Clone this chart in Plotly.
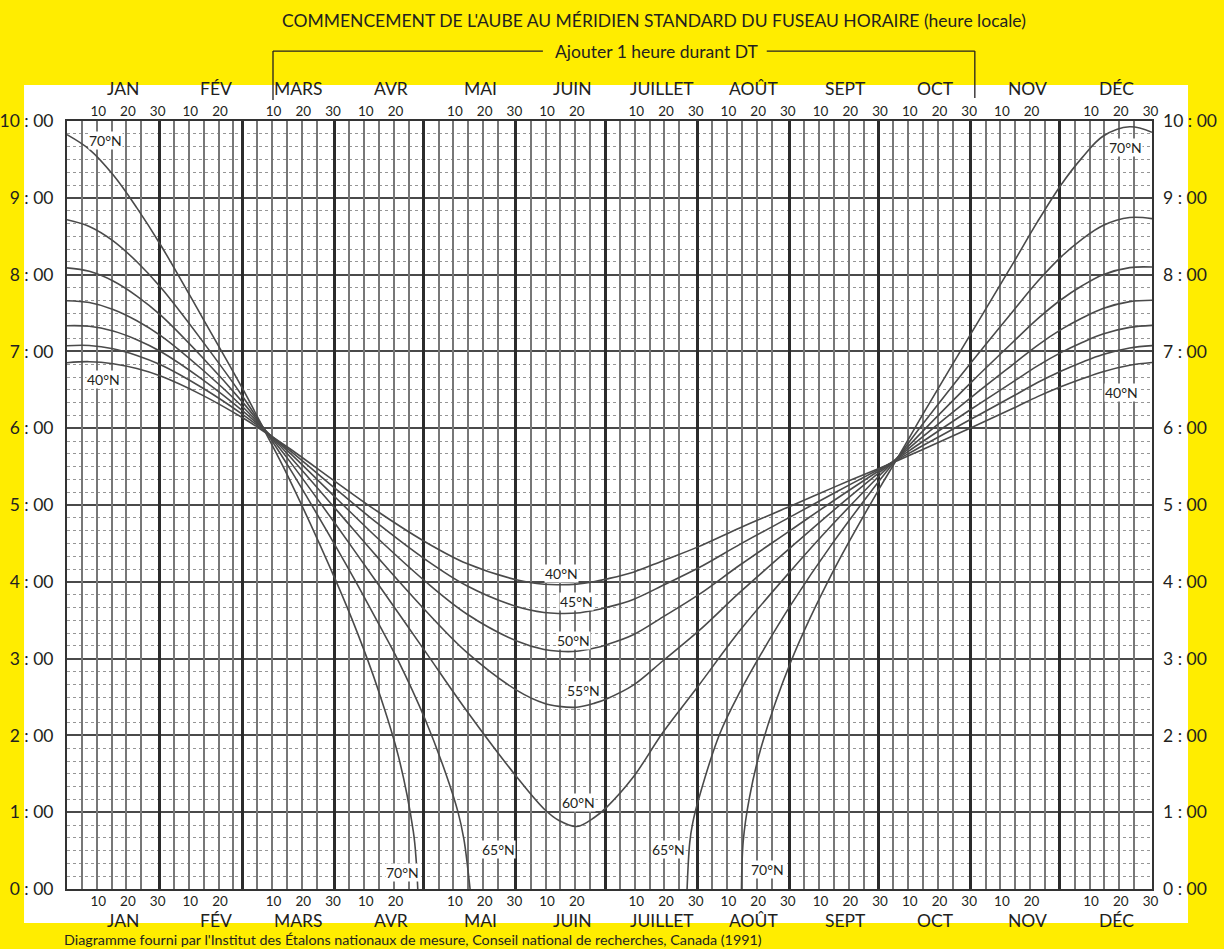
import plotly.graph_objects as go

# ---------------- data (hours of local mean time at the standard meridian) ----------------
DAYS = [0, 7.5, 15.5, 23.5, 31.5, 45.5, 59.5, 66.5, 74.5, 90.5, 104.5, 120.5, 134.5, 151.5,
        160.5, 165.5, 171.5, 177.5, 181.5, 190.5, 200.5, 212.5, 226.5, 243.5, 257.5, 273.5,
        278.5, 287.5, 304.5, 318.5, 326.5, 334.5, 341.5, 348.5, 357.5, 365]
DAWN_40N = [6.853, 6.866, 6.840, 6.776, 6.679, 6.431, 6.126, 5.951, 5.745, 5.298, 4.915, 4.520,
            4.237, 4.023, 3.968, 3.962, 3.970, 4.004, 4.036, 4.125, 4.275, 4.458, 4.705, 4.988,
            5.223, 5.483, 5.562, 5.717, 6.012, 6.262, 6.411, 6.542, 6.644, 6.736, 6.819, 6.855]
DAWN_45N = [7.074, 7.077, 7.035, 6.948, 6.826, 6.526, 6.168, 5.964, 5.724, 5.206, 4.760, 4.293,
            3.949, 3.675, 3.600, 3.588, 3.593, 3.630, 3.666, 3.771, 3.954, 4.182, 4.490, 4.848,
            5.144, 5.473, 5.572, 5.765, 6.126, 6.422, 6.595, 6.746, 6.860, 6.960, 7.045, 7.075]
DAWN_50N = [7.334, 7.327, 7.265, 7.152, 6.998, 6.635, 6.212, 5.974, 5.694, 5.091, 4.567, 4.007,
            3.581, 3.225, 3.118, 3.095, 3.096, 3.137, 3.181, 3.311, 3.543, 3.832, 4.222, 4.673,
            5.046, 5.456, 5.580, 5.817, 6.256, 6.610, 6.812, 6.987, 7.116, 7.227, 7.313, 7.339]
DAWN_55N = [7.660, 7.636, 7.547, 7.400, 7.206, 6.764, 6.263, 5.980, 5.652, 4.943, 4.318, 3.629,
            3.081, 2.583, 2.418, 2.378, 2.367, 2.420, 2.475, 2.654, 2.972, 3.360, 3.868, 4.449,
            4.918, 5.430, 5.584, 5.877, 6.412, 6.838, 7.079, 7.286, 7.434, 7.558, 7.648, 7.666]
DAWN_60N = [8.088, 8.043, 7.917, 7.721, 7.472, 6.924, 6.320, 5.984, 5.591, 4.742, 3.977, 3.094,
            2.318, 1.449, 1.042, 0.892, 0.814, 0.934, 1.063, 1.457, 2.041, 2.650, 3.372, 4.144,
            4.745, 5.390, 5.582, 5.946, 6.610, 7.132, 7.424, 7.676, 7.854, 7.998, 8.091, 8.099]

DAYS_65N_SPRING = [0, 7.5, 15.5, 23.5, 31.5, 45.5, 59.5, 66.5, 74.5, 90.5, 97.5, 104.5, 111.5,
                   120.5, 127.5, 131.5, 133.5, 134.5, 135.6]
DAWN_65N_SPRING = [8.714, 8.627, 8.440, 8.167, 7.834, 7.137, 6.391, 5.980, 5.502, 4.456, 3.977,
                   3.477, 2.968, 2.207, 1.495, 1.007, 0.653, 0.374, 0.0]
DAYS_65N_AUTUMN = [208.6, 209.5, 210.5, 212.5, 219.5, 226.5, 233.5, 243.5, 257.5, 273.5, 278.5,
                   287.5, 304.5, 318.5, 326.5, 334.5, 341.5, 348.5, 357.5, 365]
DAWN_65N_AUTUMN = [0.0, 0.608, 0.862, 1.172, 2.012, 2.576, 3.061, 3.699, 4.500, 5.328, 5.573,
                   6.035, 6.872, 7.537, 7.909, 8.234, 8.462, 8.640, 8.743, 8.729]

DAYS_70N_SPRING = [0, 7.5, 15.5, 23.5, 31.5, 45.5, 59.5, 66.5, 74.5, 90.5, 97.5, 104.5, 111.5,
                   116.5, 117.5, 118.0]
DAWN_70N_SPRING = [9.822, 9.631, 9.299, 8.869, 8.386, 7.444, 6.485, 5.965, 5.361, 4.008, 3.354,
                   2.615, 1.727, 0.749, 0.357, 0.0]
DAYS_70N_AUTUMN = [226.9, 227.5, 229.5, 233.5, 243.5, 257.5, 273.5, 278.5, 287.5, 304.5, 318.5,
                   326.5, 334.5, 341.5, 348.5, 357.5, 365]
DAWN_70N_AUTUMN = [0.0, 0.628, 1.174, 1.843, 2.959, 4.119, 5.229, 5.552, 6.154, 7.257, 8.163,
                   8.689, 9.174, 9.523, 9.802, 9.925, 9.853]

MONTHS = ["JAN", "FÉV", "MARS", "AVR", "MAI", "JUIN", "JUILLET", "AOÛT", "SEPT", "OCT", "NOV", "DÉC"]
MONTH_START = [0, 31, 59, 90, 120, 151, 181, 212, 243, 273, 304, 334]
MONTH_LEN = [31, 28, 31, 30, 31, 30, 31, 31, 30, 31, 30, 31]
DAY_LABELS = [["10", "20", "30"], ["10", "20"], ["10", "20", "30"], ["10", "20"],
              ["10", "20", "30"], ["10", "20"], ["10", "20", "30"], ["10", "20", "30"],
              ["10", "20", "30"], ["10", "20", "30"], ["10", "20"], ["10", "20", "30"]]
HOURS = list(range(11))
HOUR_LABELS = ["%d : 00" % h for h in HOURS]

CURVE_LABELS = [("70°N", 13.1, 9.75), ("40°N", 12.4, 6.63), ("70°N", 356.2, 9.65),
                ("40°N", 354.9, 6.47), ("40°N", 166.2, 4.11), ("45°N", 171.5, 3.75),
                ("50°N", 170.5, 3.24), ("55°N", 173.6, 2.59), ("60°N", 172.2, 1.13),
                ("65°N", 145.0, 0.51), ("65°N", 202.2, 0.51), ("70°N", 112.8, 0.22),
                ("70°N", 235.5, 0.25)]

DST_START_DAY = 69.3
DST_END_DAY = 305.4

TITLE = "COMMENCEMENT DE L'AUBE AU MÉRIDIEN STANDARD DU FUSEAU HORAIRE (heure locale)"
DST_NOTE = "Ajouter 1 heure durant DT"
SOURCE = ("Diagramme fourni par l'Institut des Étalons nationaux de mesure, "
          "Conseil national de recherches, Canada (1991)")

# ---------------- style ----------------
YELLOW = "#FFED00"
TXT = "#231F20"
CURVE = "#4a4a4a"
FONT = "Lato, 'Open Sans', sans-serif"

# tick / grid positions derived from the calendar
tick_pos, tick_txt = [], []
for s, labs in zip(MONTH_START, DAY_LABELS):
    for lab in labs:
        tick_pos.append(s + int(lab) + 0.5)
        tick_txt.append(lab)
five_day = [s + k for s, n in zip(MONTH_START, MONTH_LEN) for k in (5, 10, 15, 20, 25)]
month_ends = [s + n for s, n in zip(MONTH_START, MONTH_LEN)]
month_mid = [s + 19 for s in MONTH_START]

fig = go.Figure()
series = [(DAYS, DAWN_40N), (DAYS, DAWN_45N), (DAYS, DAWN_50N), (DAYS, DAWN_55N), (DAYS, DAWN_60N),
          (DAYS_65N_SPRING, DAWN_65N_SPRING), (DAYS_65N_AUTUMN, DAWN_65N_AUTUMN),
          (DAYS_70N_SPRING, DAWN_70N_SPRING), (DAYS_70N_AUTUMN, DAWN_70N_AUTUMN)]
for xs, ys in series:
    fig.add_trace(go.Scatter(x=xs, y=ys, mode="lines", hoverinfo="skip", showlegend=False,
                             line=dict(color=CURVE, width=1.6, shape="spline", smoothing=1.0)))
for xa, ya in [("x2", "y"), ("x3", "y"), ("x4", "y"), ("x", "y2")]:
    fig.add_trace(go.Scatter(x=[None], y=[None], xaxis=xa, yaxis=ya, mode="lines",
                             hoverinfo="skip", showlegend=False))

common_x = dict(range=[0, 365], zeroline=False, ticks="", fixedrange=True, automargin=False)
fig.update_layout(
    width=1224, height=949,
    margin=dict(l=67, r=72, t=121, b=60, autoexpand=False),
    paper_bgcolor=YELLOW, plot_bgcolor="white",
    font=dict(family=FONT, color=TXT),
    showlegend=False, hovermode=False,
    xaxis=dict(**common_x, tickvals=tick_pos, ticktext=tick_txt, showgrid=False,
               showline=True, linecolor="#333333", linewidth=2, mirror=True,
               tickfont=dict(size=13.5, color=TXT), ticklabelstandoff=-1),
    xaxis2=dict(**common_x, overlaying="x", side="top", anchor="y", tickvals=tick_pos,
                ticktext=tick_txt, showgrid=False, showline=False,
                tickfont=dict(size=13.5, color=TXT), ticklabelstandoff=1),
    xaxis3=dict(**common_x, overlaying="x", anchor="y", tickvals=five_day, showticklabels=False,
                showgrid=True, gridcolor="#777777", gridwidth=1.8),
    xaxis4=dict(**common_x, overlaying="x", anchor="y", tickvals=month_ends, showticklabels=False,
                showgrid=True, gridcolor="#2b2b2b", gridwidth=3),
    yaxis=dict(range=[0, 10], tickvals=HOURS, ticktext=HOUR_LABELS, ticks="", zeroline=False,
               fixedrange=True, automargin=False, showgrid=True, gridcolor="#4a4a4a", gridwidth=1.8,
               showline=True, linecolor="#333333", linewidth=2, mirror=True,
               tickfont=dict(size=17.5, color=TXT), ticklabelstandoff=8,
               minor=dict(dtick=1 / 6, showgrid=True, gridcolor="#969696", griddash="dot",
                          gridwidth=1, ticks="")),
    yaxis2=dict(range=[0, 10], overlaying="y", side="right", anchor="x", tickvals=HOURS,
                ticktext=HOUR_LABELS, ticks="", zeroline=False, showgrid=False, fixedrange=True,
                automargin=False, tickfont=dict(size=17.5, color=TXT), ticklabelstandoff=10),
)

shapes = [dict(type="rect", xref="paper", yref="paper", x0=-0.0396, x1=1.0332, y0=-0.0443,
               y1=1.0469, fillcolor="white", line=dict(width=0), layer="below")]
br = dict(color=TXT, width=1.3)
shapes += [
    dict(type="line", xref="x", yref="paper", x0=DST_START_DAY, x1=DST_START_DAY, y0=1.0273, y1=1.0911, line=br),
    dict(type="line", xref="x", yref="paper", x0=DST_START_DAY, x1=160.1, y0=1.0911, y1=1.0911, line=br),
    dict(type="line", xref="x", yref="paper", x0=235.4, x1=DST_END_DAY, y0=1.0911, y1=1.0911, line=br),
    dict(type="line", xref="x", yref="paper", x0=DST_END_DAY, x1=DST_END_DAY, y0=1.0299, y1=1.0911, line=br),
]
fig.update_layout(shapes=shapes)

ann = []
for name, m in zip(MONTHS, month_mid):
    for yy in (1.0417, -0.0405):
        ann.append(dict(x=m, y=yy, xref="x", yref="paper", text=name, showarrow=False,
                        xanchor="center", yanchor="middle", font=dict(size=17.5, color=TXT)))
for text, d, h in CURVE_LABELS:
    ann.append(dict(x=d, y=h, xref="x", yref="y", text=text, showarrow=False, bgcolor="white",
                    borderpad=0, font=dict(size=14, color=TXT)))
ann.append(dict(x=0.541, y=1.1315, xref="paper", yref="paper", text=TITLE, showarrow=False,
                xanchor="center", yanchor="middle", font=dict(size=17.5, color=TXT)))
ann.append(dict(x=0.5429, y=1.0911, xref="paper", yref="paper", text=DST_NOTE, showarrow=False,
                xanchor="center", yanchor="middle", font=dict(size=17.5, color=TXT)))
ann.append(dict(x=-0.0046, y=-0.0664, xref="paper", yref="paper", text=SOURCE, showarrow=False,
                xanchor="left", yanchor="middle", font=dict(size=14.3, color=TXT)))
fig.update_layout(annotations=ann)

fig.write_html("out.html", config={"displayModeBar": False},
               post_script="document.body.style.margin='0';document.body.style.overflow='hidden';")
